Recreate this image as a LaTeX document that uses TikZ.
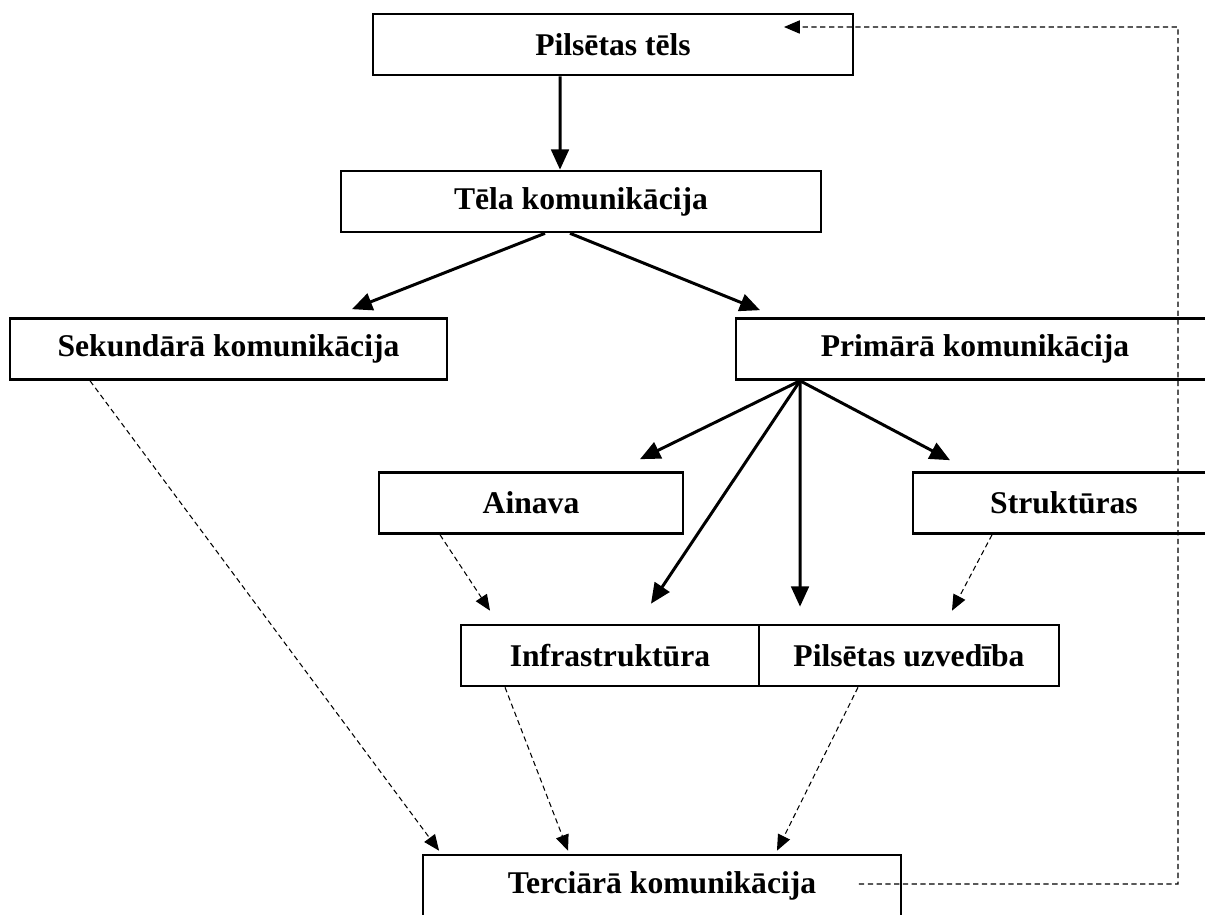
\documentclass[tikz,border=0pt]{standalone}
\usepackage{fontspec}
\setmainfont{Liberation Serif}
\usetikzlibrary{arrows.meta}
\tikzset{
  ->, % every connector is directed
  >={Triangle[length=11.5pt, width=10pt]}, % filled heads as in the scheme
  box/.style={draw, line width=1.5pt, minimum height=1.22cm, inner sep=0pt,
    font=\fontsize{18}{21}\selectfont\bfseries}, % frame of every level
  main/.style={line width=1.7pt}, % direct link
  weak/.style={line width=0.6pt, dash pattern=on 3pt off 2pt,
    >={Triangle[length=9pt, width=7.5pt]}}, % indirect link
}

\begin{document}
\begin{tikzpicture}[x=0.02cm, y=-0.02cm]
    % page frame, one unit is one pixel of the scheme
    \useasboundingbox (0,0) rectangle (1205,915);
    \clip (0,0) rectangle (1205,915);

    \node[box, minimum width=9.6cm] (tels) at (613,44.5) {Pilsētas tēls};
    \node[box, minimum width=9.6cm] (telakom) at (581,201.5) {Tēla komunikācija};
    \node[box, minimum width=8.74cm] (sekund) at (228.5,349) {Sekundārā komunikācija};
    \node[box, minimum width=9.56cm] (primar) at (975,349) {Primārā komunikācija};
    \node[box, minimum width=6.08cm] (ainava) at (531,503) {Ainava};
    \node[box, minimum width=6.04cm] (strukt) at (1064,503) {Struktūras};
    \node[box, minimum width=5.96cm] (infra) at (610,655.5) {Infrastruktūra};
    \node[box, minimum width=6cm] (uzved) at (909,655.5) {Pilsētas uzvedība};
    \node[box, minimum width=9.56cm] (terc) at (662,885.5) {Terciārā komunikācija};

    \coordinate (fan) at ([xshift=-3.5cm]primar.south);
    \coordinate (ret) at (1178,27);

    % direct links
    \draw[main] ([xshift=-1.06cm]tels.south) -- ([xshift=-0.42cm]telakom.north);
    \draw[main] ([xshift=-0.72cm]telakom.south) -- ([xshift=2.47cm, yshift=0.16cm]sekund.north);
    \draw[main] ([xshift=-0.22cm]telakom.south) -- ([xshift=-4.3cm, yshift=0.14cm]primar.north);
    \draw[main] (fan) -- ([xshift=2.18cm, yshift=0.24cm]ainava.north);
    \draw[main] (fan) -- ([xshift=0.82cm, yshift=0.4cm]infra.north);
    \draw[main] (fan) -- ([xshift=-2.18cm, yshift=0.34cm]uzved.north);
    \draw[main] (fan) -- ([xshift=-2.28cm, yshift=0.22cm]strukt.north);

    % indirect links
    \draw[weak] ([xshift=-2.77cm]sekund.south) -- ([xshift=-4.46cm, yshift=0.06cm]terc.north);
    \draw[weak] ([xshift=-1.82cm]ainava.south) -- ([xshift=-2.4cm, yshift=0.26cm]infra.north);
    \draw[weak] ([xshift=-1.44cm]strukt.south) -- ([xshift=0.86cm, yshift=0.26cm]uzved.north);
    \draw[weak] ([xshift=-2.1cm]infra.south) -- ([xshift=-1.88cm, yshift=0.06cm]terc.north);
    \draw[weak] ([xshift=-1.02cm]uzved.south) -- ([xshift=2.3cm, yshift=0.06cm]terc.north);
    \draw[weak] ([xshift=3.94cm, yshift=0.03cm]terc.center) -| (ret)
      -- ([xshift=3.42cm, yshift=0.35cm]tels.center);
\end{tikzpicture}
\end{document}
